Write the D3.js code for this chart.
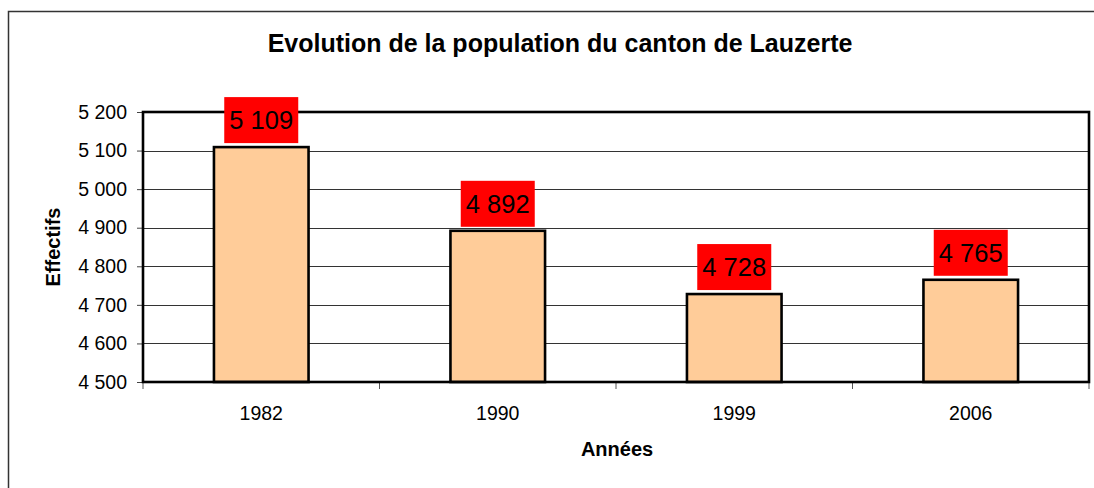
<!DOCTYPE html>
<html>
<head>
<meta charset="utf-8">
<script src="https://cdn.jsdelivr.net/npm/d3@7.9.0/dist/d3.min.js"></script>
<style>
  body { margin: 0; background: #fff; }
  svg { display: block; font-family: Arial, "Liberation Sans", sans-serif; }
</style>
</head>
<body>
<svg id="chart" width="1094" height="488"></svg>
<script>
// data
const years = ["1982", "1990", "1999", "2006"];
const population = [5109, 4892, 4728, 4765];
const yTicks = [4500, 4600, 4700, 4800, 4900, 5000, 5100, 5200];

const svg = d3.select("#chart");
const plot = { left: 143, top: 112, right: 1089, bottom: 382 };

// number format with a space as thousands separator
const fmt = d3.formatLocale({ decimal: ",", thousands: " ", grouping: [3], currency: ["", " €"] }).format(",d");

// outer chart frame (runs off the right and bottom edges)
svg.append("rect")
    .attr("x", 8.5).attr("y", 11.5)
    .attr("width", 1100).attr("height", 500)
    .attr("fill", "none").attr("stroke", "#333").attr("stroke-width", 1.5);

const x = d3.scaleBand()
    .domain(years)
    .range([plot.left, plot.right])
    .paddingInner(0.6)
    .paddingOuter(0.3);

const y = d3.scaleLinear()
    .domain([4500, 5200])
    .range([plot.bottom, plot.top]);

// gridlines
svg.append("g")
    .selectAll("line")
    .data(yTicks.slice(1, -1))
    .join("line")
    .attr("x1", plot.left).attr("x2", plot.right)
    .attr("y1", d => Math.round(y(d)) + 0.5).attr("y2", d => Math.round(y(d)) + 0.5)
    .attr("stroke", "#333").attr("stroke-width", 1.2);

// y axis ticks + labels
const yAxis = svg.append("g")
    .attr("transform", `translate(${plot.left},0)`)
    .call(d3.axisLeft(y).tickValues(yTicks).tickFormat(fmt).tickSize(6).tickPadding(10));
yAxis.select(".domain").remove();
yAxis.selectAll("line").attr("stroke", "#444");
yAxis.selectAll("text")
    .attr("font-size", 19.5).attr("fill", "#000")
    .attr("font-family", "Arial, 'Liberation Sans', sans-serif");

// x axis ticks at category boundaries
const step = (plot.right - plot.left) / years.length;
const bounds = d3.range(years.length + 1).map(i => plot.left + i * step);
svg.append("g")
    .selectAll("line")
    .data(bounds)
    .join("line")
    .attr("x1", d => d).attr("x2", d => d)
    .attr("y1", plot.bottom).attr("y2", plot.bottom + 7)
    .attr("stroke", "#555").attr("stroke-width", 1);

svg.append("g")
    .selectAll("text")
    .data(years)
    .join("text")
    .attr("x", d => x(d) + x.bandwidth() / 2)
    .attr("y", 420)
    .attr("text-anchor", "middle")
    .attr("font-size", 19.5)
    .text(d => d);

// bars
const data = years.map((yr, i) => ({ year: yr, value: population[i] }));
svg.append("g")
    .selectAll("rect")
    .data(data)
    .join("rect")
    .attr("x", d => x(d.year))
    .attr("y", d => y(d.value))
    .attr("width", x.bandwidth())
    .attr("height", d => plot.bottom - y(d.value))
    .attr("fill", "#FFCC99")
    .attr("stroke", "#000")
    .attr("stroke-width", 2.6);

// plot frame
svg.append("rect")
    .attr("x", plot.left).attr("y", plot.top)
    .attr("width", plot.right - plot.left).attr("height", plot.bottom - plot.top)
    .attr("fill", "none").attr("stroke", "#000").attr("stroke-width", 2.6);

// value labels in red boxes
const labels = svg.append("g")
    .selectAll("g")
    .data(data)
    .join("g")
    .attr("transform", d => `translate(${x(d.year) + x.bandwidth() / 2},${y(d.value) - 4})`);
labels.append("rect")
    .attr("x", -37).attr("y", -46)
    .attr("width", 74).attr("height", 46)
    .attr("fill", "#FF0000");
labels.append("text")
    .attr("y", -14)
    .attr("text-anchor", "middle")
    .attr("font-size", 25.5)
    .attr("fill", "#000")
    .text(d => fmt(d.value));

// titles
svg.append("text")
    .attr("x", 560).attr("y", 52)
    .attr("text-anchor", "middle")
    .attr("font-size", 25).attr("font-weight", "bold")
    .text("Evolution de la population du canton de Lauzerte");

svg.append("text")
    .attr("x", 617).attr("y", 456)
    .attr("text-anchor", "middle")
    .attr("font-size", 20).attr("font-weight", "bold")
    .text("Années");

svg.append("text")
    .attr("transform", "translate(60,247) rotate(-90)")
    .attr("text-anchor", "middle")
    .attr("font-size", 20).attr("font-weight", "bold")
    .text("Effectifs");
</script>
</body>
</html>
